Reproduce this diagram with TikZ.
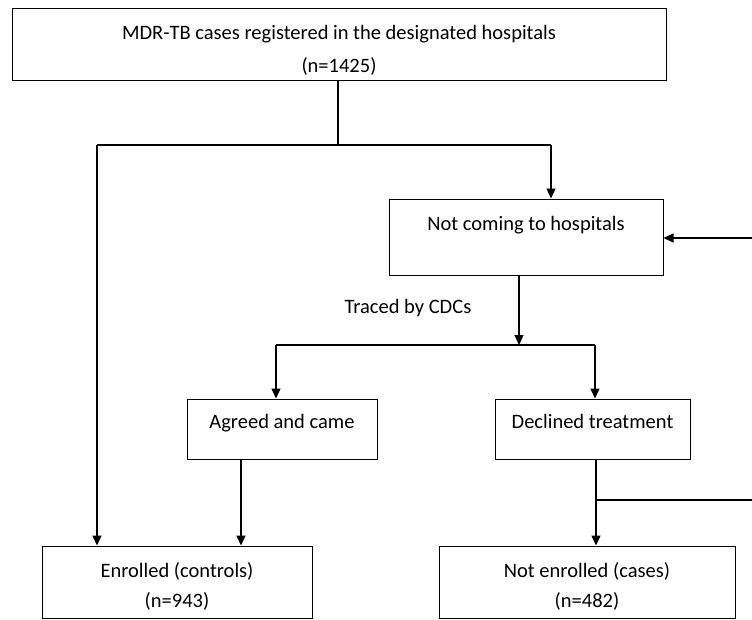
\documentclass[tikz,border=0pt]{standalone}
\usepackage{fontspec}
\setmainfont{Carlito}
\usetikzlibrary{arrows.meta}

\tikzset{
    box/.style={draw, line width=1pt, inner sep=0pt, align=center, font=\fontsize{20.5}{33}\selectfont},
    arr/.style={-{Triangle[length=10pt,width=9pt]}, line width=1.3pt},
    ln/.style={line width=1.3pt}
}

\begin{document}
\begin{tikzpicture}[x=1pt,y=-1pt]
        
            \useasboundingbox (0,0) rectangle (752,619);
            \clip (0,0) rectangle (752,619);
    
            % boxes
            \node[box, minimum width=654pt, minimum height=72pt, text height=64pt, text depth=8pt] (reg) at (339,44)
                {MDR-TB cases registered in the designated hospitals\\(n=1425)};
            \node[box, minimum width=274pt, minimum height=76pt, text height=31pt, text depth=45pt] (notcome) at (526,237)
                {Not coming to hospitals};
            \node[box, minimum width=190pt, minimum height=60pt, text height=29pt, text depth=31pt] (agreed) at (282,429)
                {Agreed and came};
            \node[box, minimum width=195pt, minimum height=60pt, text height=29pt, text depth=31pt] (declined) at (592.5,429)
                {Declined treatment};
            \node[box, minimum width=270pt, minimum height=72pt, text height=61pt, text depth=11pt] (enrolled) at (177,582)
                {Enrolled (controls)\\[-3pt](n=943)};
            \node[box, minimum width=296pt, minimum height=72pt, text height=61pt, text depth=11pt] (notenrol) at (587,582)
                {Not enrolled (cases)\\[-3pt](n=482)};
    
            \node[font=\fontsize{20.5}{24}\selectfont] (traced) at (408,308) {Traced by CDCs};
    
            % branch points
            \coordinate (split1) at (338,145);
            \coordinate (lcorner) at (97,145);
            \coordinate (rcorner) at (551,145);
            \coordinate (split2) at (519,345);
            \coordinate (agcorner) at (276,345);
            \coordinate (decorner) at (595,345);
            \coordinate (loopin) at (752,238);
            \coordinate (loopout) at (752,500);
    
            \draw[ln] (split1 |- reg.south) -- (split1);
            \draw[ln] (lcorner) -- (rcorner);
            \draw[arr] (lcorner) -- (lcorner |- enrolled.north);
            \draw[arr] (rcorner) -- (rcorner |- notcome.north);
    
            \draw[arr] (split2 |- notcome.south) -- (split2);
            \draw[ln] (agcorner) -- (decorner);
            \draw[arr] (agcorner) -- (agcorner |- agreed.north);
            \draw[arr] (decorner) -- (decorner |- declined.north);
    
            \draw[arr] (241,0 |- agreed.south) -- (241,0 |- enrolled.north);
            \draw[arr] (596,0 |- declined.south) -- (596,0 |- notenrol.north);
    
            \draw[ln] (596,500) -- (loopout);
            \draw[arr] (loopin) -- (loopin -| notcome.east);
        \end{tikzpicture}
\end{document}
